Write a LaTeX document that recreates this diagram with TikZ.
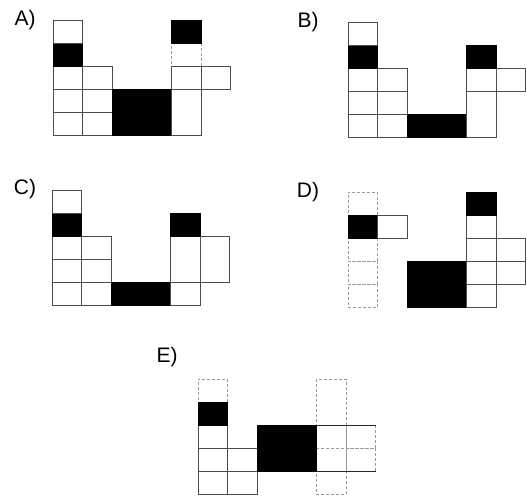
\documentclass[tikz,border=0pt]{standalone}
\usepackage{fontspec}
\setmainfont{Liberation Sans}
\usetikzlibrary{positioning}

\begin{document}
\begin{tikzpicture}[x=1pt, y=1pt, font=\fontsize{21}{24}\selectfont,
    cell/.style={draw=black!70, line width=0.6pt, inner sep=0pt, outer sep=0pt, minimum width=29.6pt, minimum height=23pt},
    wc/.style={cell, fill=white},
    faint/.style={cell, draw=black!40, densely dashed},
    bc/.style={cell, draw=black, fill=black},
    tall/.style={minimum height=46pt},
    wide/.style={minimum width=59.2pt},
    edge/.style={draw=black!85, line width=0.8pt}]
    \useasboundingbox (0,0) rectangle (527,496);

    % panel labels
    \node (labA) at (25,476) {A)};
    \node (labB) at (308,474) {B)};
    \node (labC) at (25,307) {C)};
    \node (labD) at (308,304) {D)};
    \node (labE) at (167,139) {E)};

    % A
    \begin{scope}[shift={(53,361)}, x=29.6pt, y=23pt]
    \node[faint] (a43) at (4.5,3.5) {};
    \node[wc] (a00) at (0.5,0.5) {};
    \node[wc] (a01) at (0.5,1.5) {};
    \node[wc] (a02) at (0.5,2.5) {};
    \node[bc] (a03) at (0.5,3.5) {};
    \node[wc] (a04) at (0.5,4.5) {};
    \node[wc] (a10) at (1.5,0.5) {};
    \node[wc] (a11) at (1.5,1.5) {};
    \node[wc] (a12) at (1.5,2.5) {};
    \node[bc, wide, tall] (ablk) at (3,1) {};
    \node[wc, tall] (a40) at (4.5,1) {};
    \node[wc] (a42) at (4.5,2.5) {};
    \node[bc] (a44) at (4.5,4.5) {};
    \node[wc] (a52) at (5.5,2.5) {};
    \end{scope}

    % B
    \begin{scope}[shift={(348,359)}, x=29.6pt, y=23pt]
    \node[wc] (b00) at (0.5,0.5) {};
    \node[wc] (b01) at (0.5,1.5) {};
    \node[wc] (b02) at (0.5,2.5) {};
    \node[bc] (b03) at (0.5,3.5) {};
    \node[wc] (b04) at (0.5,4.5) {};
    \node[wc] (b10) at (1.5,0.5) {};
    \node[wc] (b11) at (1.5,1.5) {};
    \node[wc] (b12) at (1.5,2.5) {};
    \node[bc, wide] (bblk) at (3,0.5) {};
    \node[wc, tall] (b40) at (4.5,1) {};
    \node[wc] (b42) at (4.5,2.5) {};
    \node[bc] (b43) at (4.5,3.5) {};
    \node[wc] (b52) at (5.5,2.5) {};
    \end{scope}

    % C
    \begin{scope}[shift={(52,191)}, x=29.6pt, y=23pt]
    \node[wc] (c00) at (0.5,0.5) {};
    \node[wc] (c01) at (0.5,1.5) {};
    \node[wc] (c02) at (0.5,2.5) {};
    \node[bc] (c03) at (0.5,3.5) {};
    \node[wc] (c04) at (0.5,4.5) {};
    \node[wc] (c10) at (1.5,0.5) {};
    \node[wc] (c11) at (1.5,1.5) {};
    \node[wc] (c12) at (1.5,2.5) {};
    \node[bc, wide] (cblk) at (3,0.5) {};
    \node[wc] (c40) at (4.5,0.5) {};
    \node[wc, tall] (c41) at (4.5,2) {};
    \node[bc] (c43) at (4.5,3.5) {};
    \node[wc, tall] (c51) at (5.5,2) {};
    \end{scope}

    % D
    \begin{scope}[shift={(348,189)}, x=29.6pt, y=23pt]
    \node[faint] (d00) at (0.5,0.5) {};
    \node[faint] (d01) at (0.5,1.5) {};
    \node[faint] (d02) at (0.5,2.5) {};
    \node[faint] (d04) at (0.5,4.5) {};
    \node[bc] (d03) at (0.5,3.5) {};
    \node[wc] (d13) at (1.5,3.5) {};
    \node[bc, wide, tall] (dblk) at (3,1) {};
    \node[wc] (d40) at (4.5,0.5) {};
    \node[wc] (d41) at (4.5,1.5) {};
    \node[wc] (d42) at (4.5,2.5) {};
    \node[wc] (d43) at (4.5,3.5) {};
    \node[bc] (d44) at (4.5,4.5) {};
    \node[wc] (d51) at (5.5,1.5) {};
    \node[wc] (d52) at (5.5,2.5) {};
    \end{scope}

    % E
    \begin{scope}[shift={(198,2)}, x=29.6pt, y=23pt]
    \node[faint] (e04) at (0.5,4.5) {};
    \node[faint, tall] (e43) at (4.5,4) {};
    \node[faint] (e40) at (4.5,0.5) {};
    \node[faint] (e41) at (4.5,1.5) {};
    \node[faint] (e42) at (4.5,2.5) {};
    \node[faint] (e51) at (5.5,1.5) {};
    \node[faint] (e52) at (5.5,2.5) {};
    \node[wc] (e00) at (0.5,0.5) {};
    \node[wc] (e01) at (0.5,1.5) {};
    \node[wc] (e02) at (0.5,2.5) {};
    \node[bc] (e03) at (0.5,3.5) {};
    \node[wc] (e10) at (1.5,0.5) {};
    \node[wc] (e11) at (1.5,1.5) {};
    \node[bc, wide, tall] (eblk) at (3,2) {};
    \draw[edge] (e42.north west) -- (e52.north east);
    \draw[edge] (e41.south west) -- (e51.south east);
    \end{scope}
\end{tikzpicture}
\end{document}
